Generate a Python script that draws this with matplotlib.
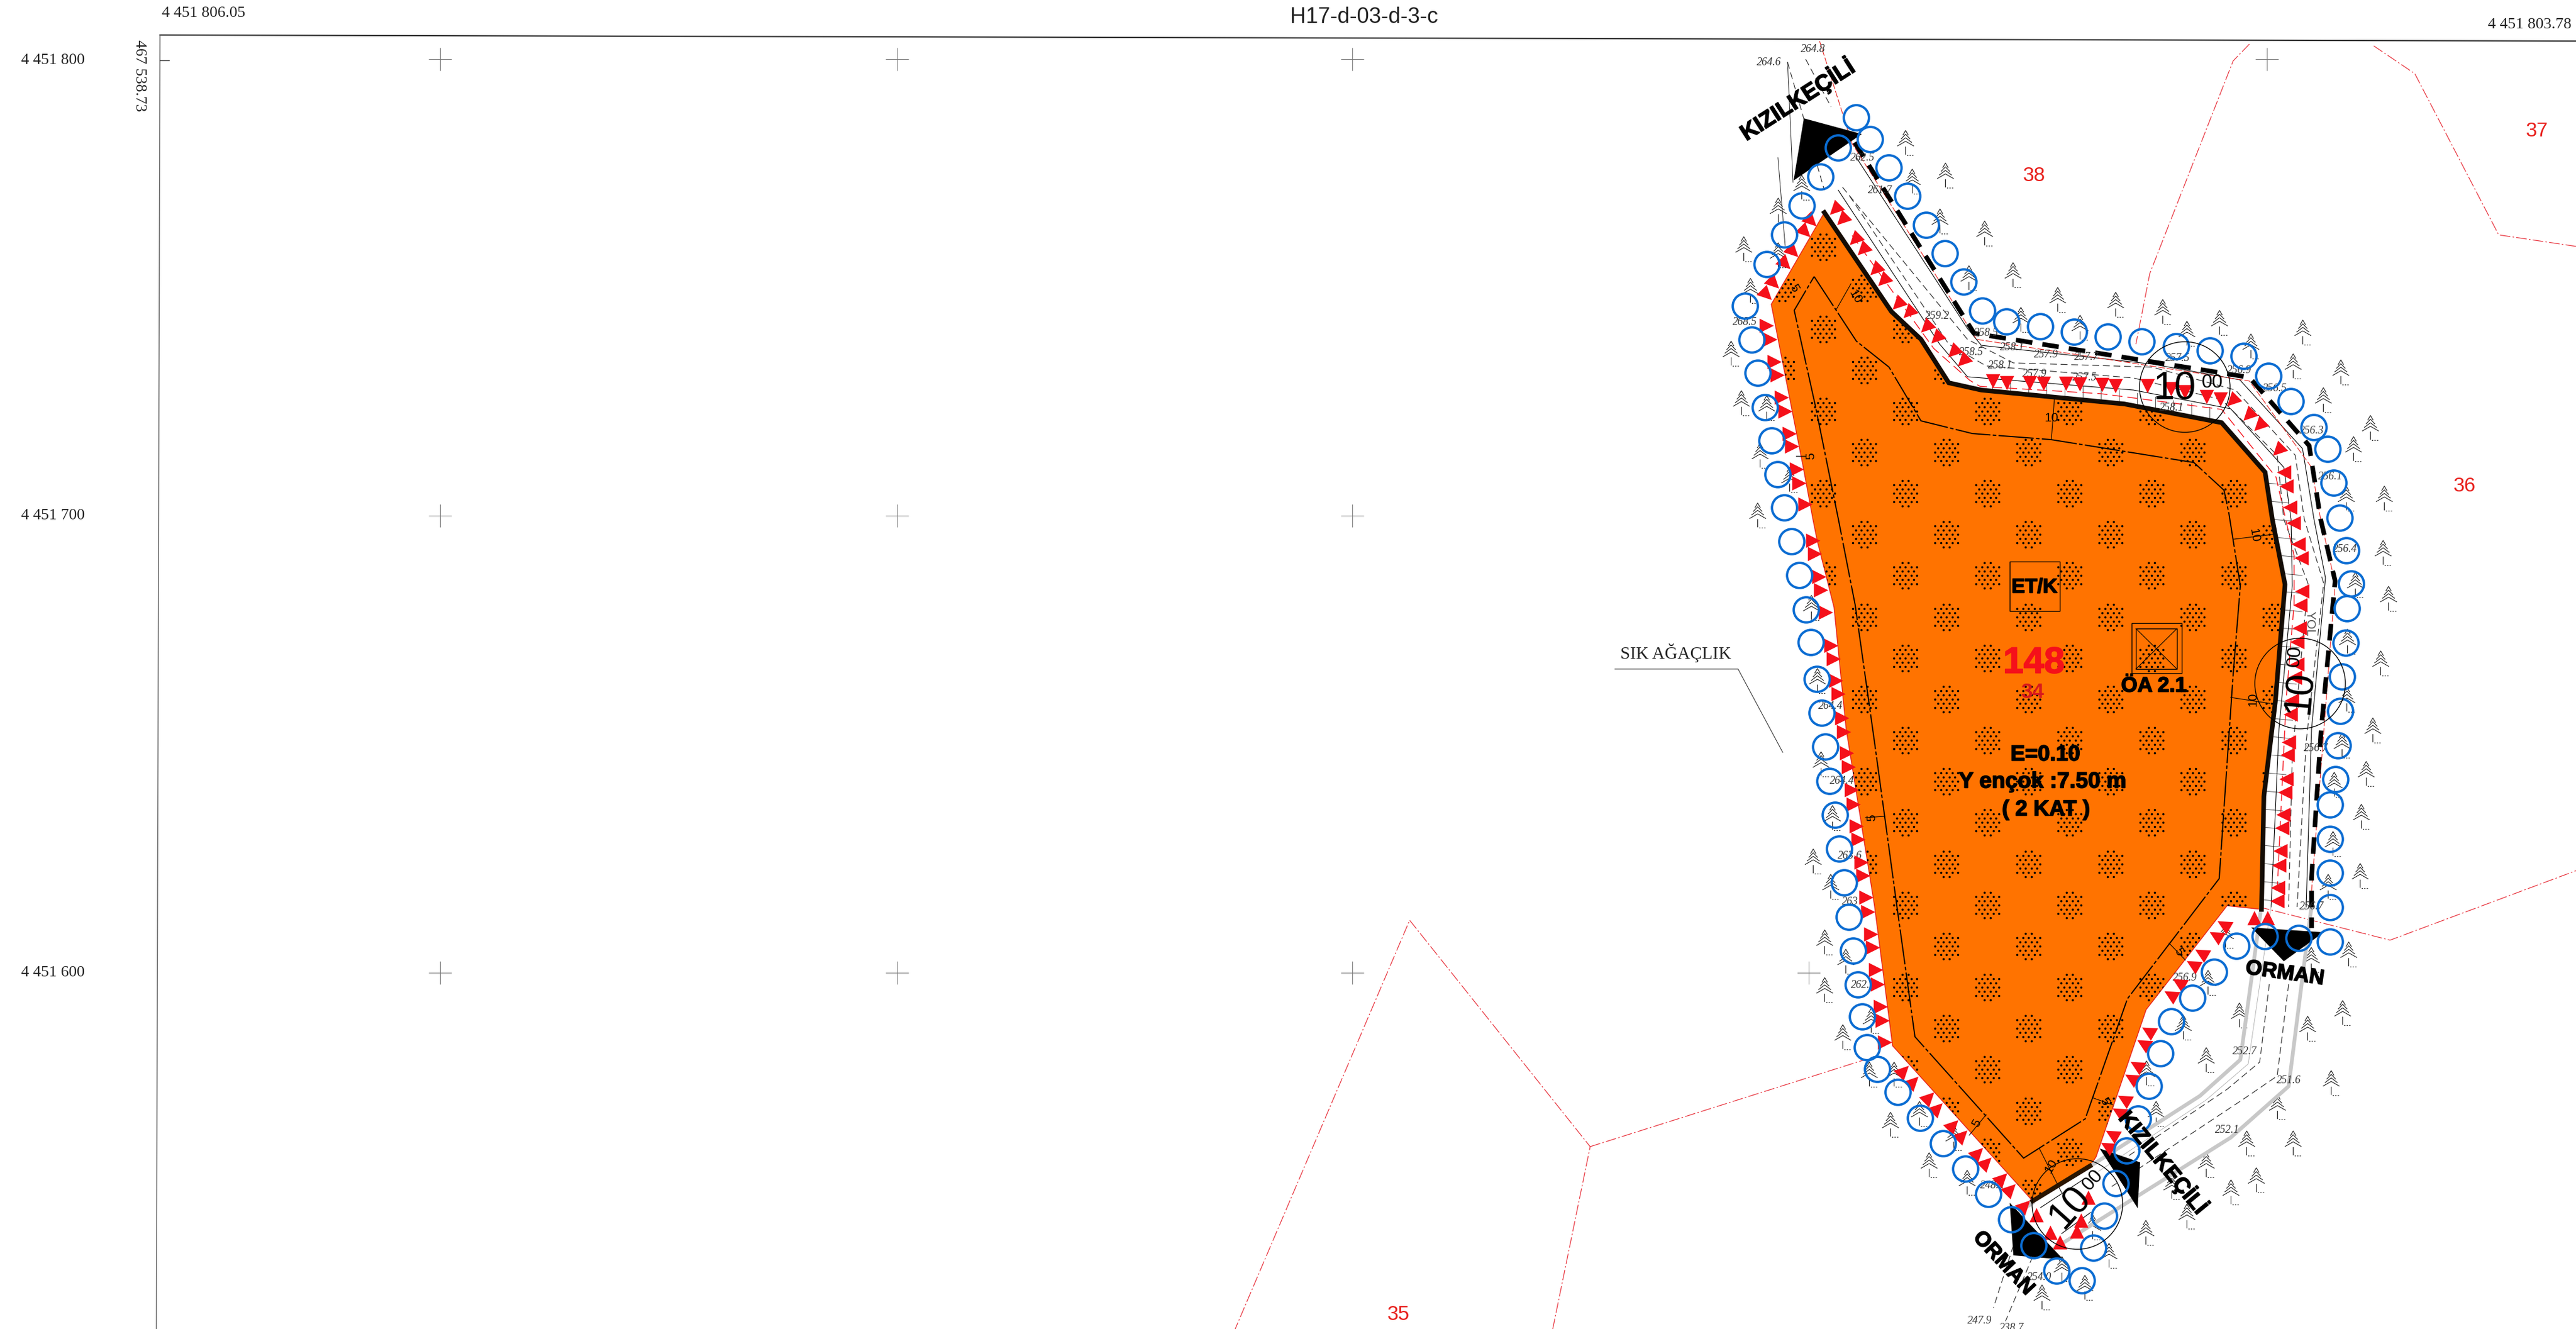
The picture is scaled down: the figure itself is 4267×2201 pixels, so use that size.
import matplotlib
matplotlib.use('Agg')
import matplotlib.pyplot as plt
import matplotlib.patheffects as pe
import numpy as np
from matplotlib.markers import MarkerStyle
from matplotlib.path import Path
from matplotlib.patches import Polygon, Rectangle, Circle
from matplotlib.transforms import Affine2D

# everything is in image pixels of the scanned sheet
parcel = [(3022,352),(3133,516),(3182,562),(3228,634),(3282,646),(3519,669),(3680,700),(3752,782),
          (3764,860),(3785,968),(3769,1162),(3750,1319),(3746,1506),(3689,1500),(3555,1672),(3472,1916),
          (3462,1931),(3367,1989),(3135,1732),(3105,1500),(3058,1207),(3038,1006),(3010,895),(3003,860),
          (2987,774),(2934,504)]
parcel_thick = [(3022,352),(3133,516),(3182,562),(3228,634),(3282,646),(3519,669),(3680,700),(3752,782),
                (3764,860),(3785,968),(3769,1162),(3750,1319),(3746,1506)]
parcel_thick2 = [(3367,1989),(3462,1931)]
setback = [(3005,458),(3075,565),(3129,608),(3182,697),(3267,718),(3397,728),(3634,766),(3684,812),(3692,850),
           (3711,970),(3699,1118),(3676,1455),(3524,1654),(3454,1853),(3352,1918),(3172,1717),(3142,1500),
           (3105,1229),(3073,1002),(3045,859),(3007,672),(2972,514),(3005,458)]
dim_ticks = [[(3042,512),(3066,470)],[(3398,728),(3403,660)],[(3700,893),(3765,885)],[(3695,1155),(3760,1165)],
             [(3090,1354),(3122,1352)],[(3593,1562),(3620,1590)],[(3466,1818),(3500,1830)],[(3262,1880),(3290,1846)],
             [(3378,1902),(3415,1975)],[(2975,755),(2990,755)]]

cluster_rows = [409,477,545,613,681,749,817,885,953,1022,1090,1158,1226,1294,1362,1431,1499,1567,1635,1703,1771,1840,1908,1976]
cluster_cols_a = [2884,3020,3156,3292,3428,3564,3700,3836]
cluster_cols_b = [2952,3088,3224,3360,3496,3632,3768]

circle_x = [3075,3098,3045,3129,3016,3160,2985,3191,2956,3222,2927,3253,2891,3284,3324,3380,3436,3492,3548,3605,3661,3717,3758,3795,3833,3856,3866,3876,
            3887,3895,3888,3886,3880,3877,3873,3869,3860,3860,3860,3860,
            2902,2912,2924,2935,2945,2956,2968,2981,2992,3000,3010,3018,3024,3031,3040,3047,3055,3063,
            3070,3078,3085,3093,3110,3144,3181,3219,3256,3294,3332,3369,3407,3449,3468,3486,3505,3523,3542,3560,3579,3597,3632,3668,3705,3752,3808,3860]
circle_y = [195,231,245,278,293,325,341,373,389,420,438,467,507,515,533,541,550,558,566,574,581,590,623,665,708,744,800,858,
            912,967,1008,1065,1121,1178,1235,1291,1333,1390,1446,1503,
            563,618,675,730,786,841,897,953,1010,1064,1125,1181,1237,1294,1350,1406,1462,1519,
            1575,1631,1684,1735,1771,1809,1852,1894,1936,1978,2020,2063,2105,2121,2067,2014,1960,1906,1853,1799,1745,1692,1653,1610,1567,1551,1554,1560]

tri_diag_x = [3039,3051,3072,3085,3106,3119,3143,3161,3190,3207,3235,3251,3697,3724,3742,3773]
tri_diag_y = [347,364,397,414,447,465,504,518,542,560,583,598,664,688,705,746]
tri_top_x = [3301,3324,3362,3385,3422,3445,3482,3504,3557,3596,3619,3655,3678]
tri_top_y = [631,634,634,635,635,636,637,639,639,644,649,657,661]
tri_right_x = [3783,3787,3793,3799,3807,3812,3813,3810,3809,3805,3805,3801,3796,3794,3791,3789,3787,3785,3782,3780,3777,3775,3773,3772]
tri_right_y = [782,805,840,866,901,924,979,1002,1040,1063,1100,1122,1160,1183,1229,1250,1290,1312,1349,1371,1409,1433,1470,1492]
tri_left_x = [2926,2932,2939,2944,2951,2957,2964,2968,2976,2980,2990,3003,3006,3013,3016,3024,3033,3037,3041,3045,3051,3054,3059,3062,3067,3070,3075,3078,3083,3086,3091,3094,3099,3102,3107,3110,3115,3118,3122]
tri_left_y = [539,562,599,621,658,681,718,739,777,800,835,895,917,955,977,1014,1069,1091,1127,1149,1189,1212,1247,1270,1308,1332,1368,1390,1428,1450,1486,1510,1547,1569,1606,1630,1667,1690,1726]
tri_upleft_x = [3000,2990,2970,2957,2938,2926]
tri_upleft_y = [366,384,417,437,469,488]
tri_lowleft_x = [3153,3169,3195,3209,3235,3250,3276,3290,3316,3330,3354]
tri_lowleft_y = [1773,1791,1817,1835,1863,1880,1909,1925,1951,1969,1996]
tri_lowright_x = [3683,3670,3646,3632,3609,3595,3558,3550,3539,3530,3518,3509,3498,3490]
tri_lowright_y = [1531,1549,1578,1597,1627,1647,1707,1728,1764,1785,1820,1841,1878,1898]
tri_up_x = [3734,3756,3459,3373,3396,3440,3412,3447]
tri_up_y = [1520,1520,1983,2012,2041,2039,2057,2021]

tree_x = [3156,3222,3167,3213,3287,3334,3261,3408,3504,3582,3347,3445,3676,3622,3814,3728,3798,3877,3848,3926,3898,3886,3949,
          2984,2945,2945,2888,2899,2867,2884,2926,2915,2964,2911,
          3947,3901,3956,3888,3943,3887,3930,3879,3919,3866,3911,3864,3909,3856,
          3010,3016,3035,3003,3032,3000,3022,3057,3022,3099,3052,3096,3137,3131,3179,3195,3236,3258,
          3382,3415,3453,3493,3554,3466,3622,3597,3695,3737,3654,3721,3798,3772,3861,3822,3880,3709,3654,3571,3555,3616,3657,3686,3828,3890]
tree_y = [236,290,300,366,386,455,460,496,504,516,529,542,534,552,550,573,606,616,662,708,743,825,825,
          310,348,422,412,481,585,667,675,754,794,853,
          915,968,991,1062,1098,1158,1209,1234,1281,1299,1352,1397,1450,1468,
          1127,1265,1354,1426,1468,1006,1560,1592,1639,1690,1717,1779,1779,1862,1844,1929,1884,1958,
          2148,2101,2132,2079,2041,2032,2014,1965,1974,1954,1929,1893,1893,1833,1793,1703,1677,1681,1755,1844,1777,1701,1627,1549,1589,1580]

road_heavy_dash = [(3072,236),(3270,552),(3726,625),(3825,738),(3844,860),(3868,962),(3845,1207),(3829,1453),(3829,1537)]
road_solid_a = [(3075,261),(3259,544),(3282,572),(3565,603),(3710,629),(3814,743),(3833,860),(3852,957),(3829,1207),(3820,1502)]
road_solid_b = [(3045,315),(3213,570),(3259,624),(3534,646),(3695,677),(3783,774),(3795,860),(3797,970),(3775,1207),(3762,1502)]
road_dash_a = [(3052,310),(3259,562),(3335,601),(3565,608),(3703,646),(3802,754),(3817,860),(3849,966),(3820,1229),(3805,1502)]
road_dash_b = [(3064,325),(3228,570),(3290,606),(3534,626),(3680,662),(3772,754),(3783,860),(3823,966),(3797,1252),(3791,1502)]
top_stub_dash = [[(2961,103),(3022,315)],[(2991,98),(3033,177)],[(3335,2063),(3302,2166)],[(3367,2081),(3322,2188)]]
top_stub_solid = [[(2945,261),(2957,407)],[(2961,103),(2970,302)]]
red_road = [(3014,68),(3068,238),(3274,562),(3726,631),(3829,774),(3844,860),(3868,966),(3829,1475)]
red_inner = [(3068,390),(3203,577),(3263,630),(3280,640),(3480,652),(3680,678),(3770,790),(3800,920),(3800,1000),(3787,1157),(3772,1475)]
ladder_top_x = [3300,3330,3360,3390,3420,3450,3480,3510,3540,3570,3600,3630,3660]
ladder_right_y = [800,830,860,890,920,950,980,1010,1040,1070,1100,1130,1160,1190,1220,1250,1280,1310,1340,1370,1400,1430,1460,1490]

gray_left = [(3746,1500),(3711,1755),(3644,1815),(3466,1929)]
gray_right = [(3829,1500),(3791,1799),(3695,1884),(3402,2068)]
gray_short = [(3345,2007),(3367,1992)]
gray_thin = [(3762,1500),(3724,1762),(3654,1822),(3476,1940)]
low_dash_a = [(3759,1630),(3743,1759),(3689,1804),(3504,1929)]
low_dash_b = [(3791,1630),(3772,1782),(3721,1817),(3498,1965)]
low_solid = [[(3380,2000),(3453,1952)],[(3415,2043),(3463,2008)]]

red_lines = [[(3726,73),(3699,101),(3561,453),(3538,570)],
             [(3932,76),(4000,122),(4139,389),(4267,408)],
             [(2572,2201),(2634,1899),(2335,1524),(2046,2201)],
             [(2634,1899),(3089,1755)],
             [(3742,1502),(3959,1557),(4267,1442)]]

black_tris = [[(2988,196),(3084,222),(2971,299)],
              [(3729,1536),(3849,1544),(3783,1592)],
              [(3478,1902),(3545,1925),(3541,2001)],
              [(3329,1992),(3335,2079),(3418,2086)]]

cross_x = [729,1486,2240,3755,729,1486,2240,729,1486,2240,2996]
cross_y = [98,98,98,98,854,854,854,1611,1611,1611,1611]

elev_labels = ['264.8','264.6','262.5','261.7','259.2','258.5','258.1','257.9','257.7','257.5','256.9','258.5','258.1','257.9','257.5','258.1','256.5','256.3','256.1','268.5',
               '256.4','256.7','256.7','264.4','264.4','263.6','263','256.9','262.7','252.7','251.6','252.1','248.2','254.0','247.9','238.7']
elev_x = [3003,2930,3085,3114,3209,3290,3333,3389,3456,3607,3709,3265,3313,3370,3453,3597,3768,3829,3860,2890,
          3884,3836,3829,3032,3051,3064,3064,3619,3086,3718,3791,3689,3300,3378,3279,3332]
elev_y = [81,104,262,315,523,552,575,587,592,594,613,583,606,619,625,676,644,713,789,533,
          909,1239,1502,1170,1294,1417,1494,1620,1631,1741,1790,1872,1964,2115,2187,2199]

dim_labels = ['10','10','5','5','10','10','5','5','5','5','10']
dim_x = [3073,3398,2972,3000,3734,3732,3101,3609,3486,3274,3397]
dim_y = [491,692,477,755,887,1158,1354,1576,1824,1860,1931]
dim_rot = [-60,0,-60,90,-80,90,90,-60,-60,60,60]

serif_labels = ['4 451 806.05','4 451 803.78','4 451 800','4 451 700','4 451 600']
serif_x = [337,4190,88,88,88]
serif_y = [22,41,100,854,1611]

red_numbers = ['38','37','36','35']
red_x = [3369,4202,4082,2316]
red_y = [291,218,805,2177]

road_names = ['KIZILKEÇİLİ','KIZILKEÇİLİ','ORMAN','ORMAN']
road_x = [2977,3583,3785,3319]
road_y = [165,1925,1612,2092]
road_rot = [32.6,-50.6,-8,-47]
road_size = [27,26,25,25]

width_x = [3619,3810,3441]
width_y = [641,1132,1994]
width_rot = [0,85,48]
width_10_x = [3602,3810,3429]
width_10_y = [644,1147,2000]
width_00_x = [3664,3801,3467]
width_00_y = [634,1087,1954]

fig = plt.figure(figsize=(42.67,22.01), dpi=100)
ax = fig.add_axes([0,0,1,1])
ax.set_xlim(0,4267)
ax.set_ylim(2201,0)
ax.axis('off')


def line(pts, **kw):
    ax.plot([p[0] for p in pts], [p[1] for p in pts], **kw)


def tree_marker():
    verts = [(0,-0.3),(0,-0.95)]
    codes = [Path.MOVETO,Path.LINETO]
    for x0, x1 in [(0.12,0.22),(0.32,0.42),(0.52,0.62)]:
        verts += [(x0,-1),(x1,-1)]
        codes += [Path.MOVETO,Path.LINETO]
    # chevrons hang down from the trunk line, spaced so they stay apart
    for y, w in [(0.6,0.22),(0.3,0.36),(0.02,0.5),(-0.26,0.66)]:
        verts += [(-w,y),(0,y+0.38),(w,y)]
        codes += [Path.MOVETO,Path.LINETO,Path.LINETO]
    return Path(verts, codes)


bold_fx = [pe.withStroke(linewidth=1.2, foreground='black')]

# sheet frame
line([(265,58),(4267,68)], color='#333333', lw=1.6, zorder=2)
line([(265,58),(259,2201)], color='#555555', lw=1.0, zorder=2)
line([(265,100),(280,100)], color='#333333', lw=1.0, zorder=2)
ax.plot(cross_x, cross_y, ls='', marker='+', ms=28, mew=0.7, color='#777777', zorder=2)

for pts in red_lines:
    line(pts, color='#E8323C', lw=0.9, dashes=(14,3,2,3), zorder=2)

# parcel
poly = Polygon(parcel, closed=True, facecolor='#FF7300', edgecolor='#E8201C', lw=1.0, zorder=3)
ax.add_patch(poly)

xs, ys = [], []
for i, row in enumerate(cluster_rows):
    cols = cluster_cols_a if i % 2 == 0 else cluster_cols_b
    for c in cols:
        for r in range(-3, 4):
            half = 4.75 if r % 2 else 0
            for k in range(-3, 4):
                dx = k * 9.5 + half
                dy = r * 7
                if dx * dx + dy * dy <= 24 * 24:
                    xs.append(c + dx)
                    ys.append(row + dy)
dots = ax.scatter(xs, ys, s=7, color='black', linewidths=0, zorder=4)
dots.set_clip_path(poly)

line(setback, color='black', lw=1.4, dashes=(30,2,3,2), zorder=5)
for pts in dim_ticks:
    line(pts, color='black', lw=0.8, zorder=5)

# road
edge_x = [p[0] for p in parcel_thick]
edge_y = [p[1] for p in parcel_thick]
for x in ladder_top_x:
    y0 = np.interp(x, edge_x[3:7], edge_y[3:7])
    ax.plot([x,x], [y0,y0-22], color='#555555', lw=0.7, zorder=5)
for y in ladder_right_y:
    x0 = np.interp(y, edge_y[7:], edge_x[7:])
    ax.plot([x0,x0+32], [y,y+3], color='#555555', lw=0.7, zorder=5)

line(road_solid_a, color='black', lw=0.8, zorder=5)
line(road_solid_b, color='black', lw=0.8, zorder=5)
line(road_dash_a, color='#333333', lw=0.9, dashes=(9,5), zorder=5)
line(road_dash_b, color='#333333', lw=0.9, dashes=(9,5), zorder=5)
line(red_road, color='#E8201C', lw=0.8, dashes=(10,3), zorder=5)
line(red_inner, color='#F5101A', lw=1.0, dashes=(12,6), zorder=5)
for pts in top_stub_dash:
    line(pts, color='#222222', lw=0.8, dashes=(10,6), zorder=5)
for pts in top_stub_solid:
    line(pts, color='#222222', lw=0.7, zorder=5)
line(road_heavy_dash, color='black', lw=5.5, dashes=(3.6,2.2), zorder=6)
line(parcel_thick, color='#140C04', lw=5.5, solid_joinstyle='miter', zorder=6)
line(parcel_thick2, color='#2A1500', lw=5.5, zorder=6)

line(gray_left, color='#C8C8C8', lw=4.5, zorder=5)
line(gray_right, color='#C8C8C8', lw=4.5, zorder=5)
line(gray_short, color='#C8C8C8', lw=4.5, zorder=5)
line(gray_thin, color='#AAAAAA', lw=0.6, zorder=5)
line(low_dash_a, color='#333333', lw=0.9, dashes=(9,5), zorder=5)
line(low_dash_b, color='#333333', lw=0.9, dashes=(9,5), zorder=5)
for pts in low_solid:
    line(pts, color='black', lw=0.8, zorder=5)

for pts in black_tris:
    ax.add_patch(Polygon(pts, closed=True, facecolor='black', edgecolor='none', zorder=6))

# trees
ax.plot(tree_x, tree_y, ls='', marker=tree_marker(), ms=30, mfc='none', mec='#1A1A1A', mew=0.8, zorder=4)

# triangles point at the parcel
tri_groups = [(tri_diag_x,tri_diag_y,135),(tri_top_x,tri_top_y,180),(tri_right_x,tri_right_y,90),
              (tri_left_x,tri_left_y,-90),(tri_upleft_x,tri_upleft_y,-135),(tri_lowleft_x,tri_lowleft_y,-45),
              (tri_lowright_x,tri_lowright_y,60),(tri_up_x,tri_up_y,0)]
for gx, gy, ang in tri_groups:
    m = MarkerStyle('^', transform=Affine2D().rotate_deg(ang))
    ax.scatter(gx, gy, marker=m, s=290, color='#F5101A', linewidths=0, zorder=7)

ax.scatter(circle_x, circle_y, s=900, facecolors='none', edgecolors='#0A6CD2', linewidths=2.8, zorder=8)

# road width bubbles
for cx, cy in zip(width_x, width_y):
    ax.add_patch(Circle((cx,cy), 75, fill=False, edgecolor='black', lw=1.0, zorder=8))
for tx, ty, rot in zip(width_10_x, width_10_y, width_rot):
    ax.text(tx, ty, '10', fontsize=46, family='Liberation Sans', rotation=rot, ha='center', va='center', zorder=9)
for tx, ty, rot in zip(width_00_x, width_00_y, width_rot):
    ax.text(tx, ty, '00', fontsize=23, family='Liberation Sans', rotation=rot, ha='center', va='center', zorder=9)

# boxes in the parcel
ax.add_patch(Rectangle((3329,930), 83, 82, fill=False, edgecolor='black', lw=1.0, zorder=6))
ax.add_patch(Rectangle((3531,1032), 83, 83, fill=False, edgecolor='black', lw=1.0, zorder=6))
ax.add_patch(Rectangle((3538,1041), 68, 67, fill=False, edgecolor='black', lw=1.0, zorder=6))
line([(3538,1041),(3606,1108)], color='black', lw=0.8, zorder=6)
line([(3538,1108),(3606,1041)], color='black', lw=0.8, zorder=6)

# texts
for s, x, y in zip(serif_labels, serif_x, serif_y):
    ax.text(x, y, s, fontsize=19, family='Liberation Serif', color='#222222', ha='center', va='center')
ax.text(231, 125, '467 538.73', fontsize=19, family='Liberation Serif', color='#222222', rotation=270, ha='center', va='center')
ax.text(2259, 28, 'H17-d-03-d-3-c', fontsize=26, family='Liberation Sans', color='#222222', ha='center', va='center')
ax.text(2776, 1081, 'SIK AĞAÇLIK', fontsize=21, family='Liberation Serif', color='#222222', ha='center', va='center')
line([(2675,1108),(2879,1108),(2953,1246)], color='#333333', lw=0.8, zorder=2)
ax.text(3826, 1033, 'YOL', fontsize=15, family='Liberation Sans', color='#555555', rotation=270, ha='center', va='center', zorder=6)

for s, x, y in zip(red_numbers, red_x, red_y):
    ax.text(x, y, s, fontsize=24, family='Liberation Sans', color='#E8201C', ha='center', va='center', zorder=9)
for s, x, y in zip(elev_labels, elev_x, elev_y):
    ax.text(x, y, s, fontsize=13, family='Liberation Serif', style='italic', color='#333333', ha='center', va='center', zorder=6)
for s, x, y, rot in zip(dim_labels, dim_x, dim_y, dim_rot):
    ax.text(x, y, s, fontsize=15, family='Liberation Sans', color='black', rotation=rot, ha='center', va='center', zorder=6)
for s, x, y, rot, fs in zip(road_names, road_x, road_y, road_rot, road_size):
    ax.text(x, y, s, fontsize=fs, family='Liberation Sans', weight='bold', rotation=rot, ha='center', va='center', zorder=9, path_effects=bold_fx)

ax.text(3369, 1099, '148', fontsize=44, family='Liberation Sans', weight='bold', color='#F5101A', ha='center', va='center', zorder=9,
        path_effects=[pe.withStroke(linewidth=1.2, foreground='#F5101A')])
ax.text(3367, 1147, '34', fontsize=25, family='Liberation Sans', weight='bold', color='#D8181C', ha='center', va='center', zorder=9)
ax.text(3370, 973, 'ET/K', fontsize=24, family='Liberation Sans', weight='bold', ha='center', va='center', zorder=9, path_effects=bold_fx)
ax.text(3568, 1136, 'ÖA 2.1', fontsize=25, family='Liberation Sans', weight='bold', ha='center', va='center', zorder=9, path_effects=bold_fx)
ax.text(3388, 1250, 'E=0.10', fontsize=26, family='Liberation Sans', weight='bold', ha='center', va='center', zorder=9, path_effects=bold_fx)
ax.text(3383, 1295, 'Y ençok :7.50 m', fontsize=26.5, family='Liberation Sans', weight='bold', ha='center', va='center', zorder=9, path_effects=bold_fx)
ax.text(3389, 1341, '( 2 KAT )', fontsize=26, family='Liberation Sans', weight='bold', ha='center', va='center', zorder=9, path_effects=bold_fx)

fig.savefig('out.png', dpi=100, facecolor='white')
